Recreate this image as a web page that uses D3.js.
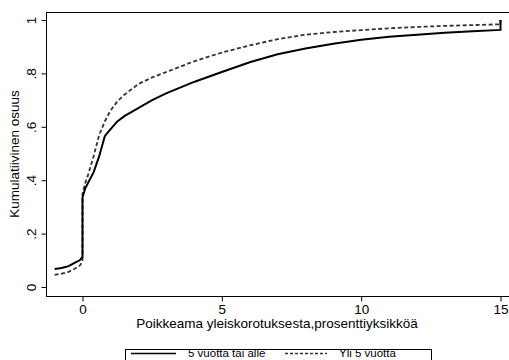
<!DOCTYPE html>
<html>
<head>
<meta charset="utf-8">
<script src="https://cdn.jsdelivr.net/npm/d3@7"></script>
<style>
  body { margin: 0; background: #fff; }
  svg { display: block; font-family: "Liberation Sans", Arial, sans-serif; }
  .axis text { font-size: 13.5px; fill: #000; }
  .axis path, .axis line { stroke: #000; }
</style>
</head>
<body>
<svg id="chart" width="509" height="360"></svg>
<script>
// cumulative share vs. deviation from general raise (percentage points)
const xVals = [-1, -0.75, -0.5, -0.25, -0.1, 0, 0, 0.1, 0.2, 0.4, 0.6, 0.8, 1.0, 1.25, 1.5,
  2, 2.5, 3, 4, 5, 6, 7, 8, 9, 10, 11, 12, 13, 14, 15, 15];
const shortTenure = [0.067, 0.071, 0.078, 0.092, 0.100, 0.113, 0.335, 0.37, 0.39, 0.43, 0.49, 0.565, 0.59, 0.62, 0.64,
  0.67, 0.70, 0.725, 0.768, 0.805, 0.842, 0.872, 0.893, 0.911, 0.926, 0.937, 0.945, 0.952, 0.958, 0.963, 1.0];
const longTenure = [0.045, 0.05, 0.057, 0.07, 0.08, 0.095, 0.35, 0.39, 0.42, 0.49, 0.57, 0.62, 0.66, 0.695, 0.72,
  0.76, 0.785, 0.805, 0.845, 0.878, 0.905, 0.928, 0.945, 0.955, 0.962, 0.969, 0.974, 0.978, 0.981, 0.984, 1.0];
const seriesNames = ["5 vuotta tai alle", "Yli 5 vuotta"];
const xTicks = [0, 5, 10, 15];
const yTicks = [0, 0.2, 0.4, 0.6, 0.8, 1];

const svg = d3.select("#chart");

const plotLeft = 46, plotTop = 12, plotBottom = 296;

const x = d3.scaleLinear().domain([0, 15]).range([82.5, 500.5]);
const y = d3.scaleLinear().domain([0, 1]).range([287, 20]);

// plot region outline (right side runs off the image)
svg.append("rect")
  .attr("x", plotLeft + 0.5)
  .attr("y", plotTop + 0.5)
  .attr("width", 480)
  .attr("height", plotBottom - plotTop)
  .attr("fill", "none")
  .attr("stroke", "#000")
  .attr("stroke-width", 1);

const yFmt = d => d === 0 ? "0" : d === 1 ? "1" : d3.format(".1f")(d).replace(/^0/, "");

const yAxis = svg.append("g")
  .attr("class", "axis")
  .attr("transform", `translate(${plotLeft + 0.5},0)`)
  .call(d3.axisLeft(y).tickValues(yTicks).tickSize(5).tickFormat(yFmt));
yAxis.select(".domain").remove();
yAxis.selectAll("text")
  .attr("x", null).attr("dy", null)
  .attr("text-anchor", "middle")
  .attr("transform", "translate(-11,0) rotate(-90)");

const xAxis = svg.append("g")
  .attr("class", "axis")
  .attr("transform", `translate(0,${plotBottom + 0.5})`)
  .call(d3.axisBottom(x).tickValues(xTicks).tickSize(5).tickFormat(d3.format("d")));
xAxis.select(".domain").remove();
xAxis.selectAll("text").attr("y", 8);

const line = d3.line()
  .x((d, i) => x(xVals[i]))
  .y(d => y(d));

svg.append("path")
  .datum(longTenure)
  .attr("d", line)
  .attr("fill", "none")
  .attr("stroke", "#333")
  .attr("stroke-width", 1.8)
  .attr("stroke-dasharray", "4,2.5");

svg.append("path")
  .datum(shortTenure)
  .attr("d", line)
  .attr("fill", "none")
  .attr("stroke", "#000")
  .attr("stroke-width", 2);

// axis titles
svg.append("text")
  .attr("x", 277)
  .attr("y", 328)
  .attr("text-anchor", "middle")
  .style("font-size", "13.5px")
  .text("Poikkeama yleiskorotuksesta,prosenttiyksikköä");

svg.append("text")
  .attr("transform", "translate(18.5,154) rotate(-90)")
  .attr("text-anchor", "middle")
  .style("font-size", "13.5px")
  .text("Kumulatiivinen osuus");

// legend
const legend = svg.append("g");
legend.append("rect")
  .attr("x", 125.5).attr("y", 349.5)
  .attr("width", 306).attr("height", 20)
  .attr("fill", "#fff").attr("stroke", "#000");

const legendItems = [
  { name: seriesNames[0], x1: 131, x2: 176, tx: 188, dash: null, color: "#000" },
  { name: seriesNames[1], x1: 285, x2: 327, tx: 339, dash: "3,2", color: "#333" }
];
legend.selectAll("line")
  .data(legendItems)
  .enter().append("line")
  .attr("x1", d => d.x1).attr("x2", d => d.x2)
  .attr("y1", 353.5).attr("y2", 353.5)
  .attr("stroke", d => d.color)
  .attr("stroke-width", 1.5)
  .attr("stroke-dasharray", d => d.dash);
legend.selectAll("text")
  .data(legendItems)
  .enter().append("text")
  .attr("x", d => d.tx)
  .attr("y", 357.3)
  .style("font-size", "11.5px")
  .text(d => d.name);
</script>
</body>
</html>
